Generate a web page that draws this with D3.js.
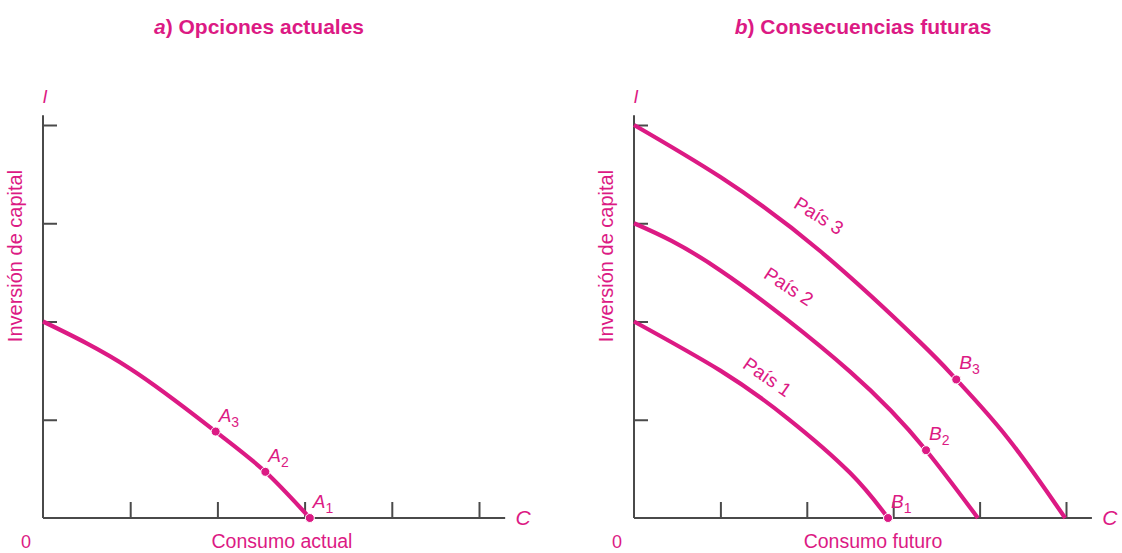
<!DOCTYPE html>
<html>
<head>
<meta charset="utf-8">
<script src="https://cdn.jsdelivr.net/npm/d3@7"></script>
<style>
  body { margin: 0; background: #fff; }
  text { font-family: "Liberation Sans", Arial, sans-serif; }
</style>
</head>
<body>
<svg id="canvas" width="1122" height="553"></svg>
<script>
// curve points, in axis units (x = consumo, y = inversion)
let frontierA = [[0, 2.0], [1.0, 1.52], [1.98, 0.88], [2.55, 0.47], [3.06, 0]]
let pais1 = [[0, 2.0], [1.0, 1.5], [1.77, 1.02], [2.5, 0.46], [2.94, 0]]
let pais2 = [[0, 3.0], [1.0, 2.52], [2.5, 1.49], [3.38, 0.69], [3.98, 0]]
let pais3 = [[0, 4.0], [1.0, 3.47], [2.15, 2.72], [3.31, 1.79], [3.73, 1.41], [4.32, 0.82], [4.99, 0]]
let pointsA = [{name: 'A', sub: '3', x: 1.98, y: 0.88}, {name: 'A', sub: '2', x: 2.55, y: 0.47}, {name: 'A', sub: '1', x: 3.06, y: 0}]
let pointsB = [{name: 'B', sub: '1', x: 2.94, y: 0}, {name: 'B', sub: '2', x: 3.38, y: 0.69}, {name: 'B', sub: '3', x: 3.73, y: 1.41}]
let curveNames = ['País 1', 'País 2', 'País 3']
let xTicks = [1, 2, 3, 4, 5]
let yTicks = [1, 2, 3, 4]
let titles = ['a', ') Opciones actuales', 'b', ') Consecuencias futuras']
let xLabels = ['Consumo actual', 'Consumo futuro']
let yLabel = 'Inversión de capital'

let pink = '#dc1a84'
let axisColor = '#4a4a4a'
let canvas = d3.select('#canvas')

let y = d3.scaleLinear().domain([0, 4]).range([518, 125])

let drawPanel = (x0, x5, xEnd, curves, points, title, titleX, xLabel) => {
    let x = d3.scaleLinear().domain([0, 5]).range([x0, x5])
    let g = canvas.append('g')

    let xAxis = d3.axisBottom(x).tickValues(xTicks).tickFormat('').tickSizeInner(-16).tickSizeOuter(0)
    let xa = g.append('g').attr('transform', 'translate(0,' + y(0) + ')').call(xAxis)
    xa.select('.domain').attr('d', 'M' + x(0) + ',0H' + x(xEnd))
    let yAxis = d3.axisLeft(y).tickValues(yTicks).tickFormat('').tickSizeInner(-14).tickSizeOuter(0)
    let ya = g.append('g').attr('transform', 'translate(' + x(0) + ',0)').call(yAxis)
    ya.select('.domain').attr('d', 'M0,' + y(0) + 'V' + y(4.1))
    g.selectAll('.domain, .tick line').attr('stroke', axisColor).attr('stroke-width', 2)

    let line = d3.line().x(d => x(d[0])).y(d => y(d[1])).curve(d3.curveNatural)
    g.selectAll('path.curve')
     .data(curves)
     .enter()
     .append('path')
     .attr('class', 'curve')
     .attr('d', line)
     .attr('fill', 'none')
     .attr('stroke', pink)
     .attr('stroke-width', 4.2)

    g.selectAll('circle.pt')
     .data(points)
     .enter()
     .append('circle')
     .attr('class', 'pt')
     .attr('cx', d => x(d.x))
     .attr('cy', d => y(d.y))
     .attr('r', 4.5)
     .attr('fill', pink)
     .attr('stroke', '#fff')
     .attr('stroke-width', 1)

    let lbl = g.selectAll('text.pt')
     .data(points)
     .enter()
     .append('text')
     .attr('class', 'pt')
     .attr('x', d => x(d.x) + 3)
     .attr('y', d => y(d.y) - 10)
     .attr('fill', pink)
     .attr('font-size', 19)
     .attr('font-style', 'italic')
    lbl.append('tspan').text(d => d.name)
    lbl.append('tspan').attr('dy', 5).attr('font-size', 14).attr('font-style', 'normal').text(d => d.sub)

    // titles
    let t = g.append('text')
     .attr('x', titleX)
     .attr('y', 34)
     .attr('text-anchor', 'middle')
     .attr('fill', pink)
     .attr('font-size', 21)
     .attr('font-weight', 'bold')
    t.append('tspan').attr('font-style', 'italic').text(title[0])
    t.append('tspan').text(title[1])

    g.append('text').attr('x', x(0) + 2).attr('y', 103).attr('fill', pink)
     .attr('font-size', 18).attr('font-style', 'italic').attr('text-anchor', 'middle').text('I')
    g.append('text').attr('x', x(xEnd) + 18).attr('y', y(0) + 7).attr('fill', pink)
     .attr('font-size', 21).attr('font-style', 'italic').attr('text-anchor', 'middle').text('C')
    g.append('text').attr('x', x(0) - 17).attr('y', 548).attr('fill', pink)
     .attr('font-size', 18).attr('text-anchor', 'middle').text('0')
    g.append('text').attr('x', x(0) + 239).attr('y', 548).attr('fill', pink)
     .attr('font-size', 19.5).attr('text-anchor', 'middle').text(xLabel)
    g.append('text')
     .attr('transform', 'translate(' + (x(0) - 21) + ',' + 256 + ') rotate(-90)')
     .attr('fill', pink).attr('font-size', 20).attr('text-anchor', 'middle').text(yLabel)
    return x
}

drawPanel(43, 479, 5.3, [frontierA], pointsA, [titles[0], titles[1]], 259, xLabels[0])
let xb = drawPanel(634, 1066, 5.3, [pais1, pais2, pais3], pointsB, [titles[2], titles[3]], 863, xLabels[1])

// País labels along the curves
let paisPos = [[1.5, 1.38, 35], [1.75, 2.3, 33], [2.1, 3.02, 32]]
canvas.selectAll('text.pais')
      .data(curveNames)
      .enter()
      .append('text')
      .attr('class', 'pais')
      .attr('transform', (d, i) => 'translate(' + xb(paisPos[i][0]) + ',' + y(paisPos[i][1]) + ') rotate(' + paisPos[i][2] + ')')
      .attr('text-anchor', 'middle')
      .attr('fill', pink)
      .attr('font-size', 19)
      .text(d => d)
</script>
</body>
</html>
